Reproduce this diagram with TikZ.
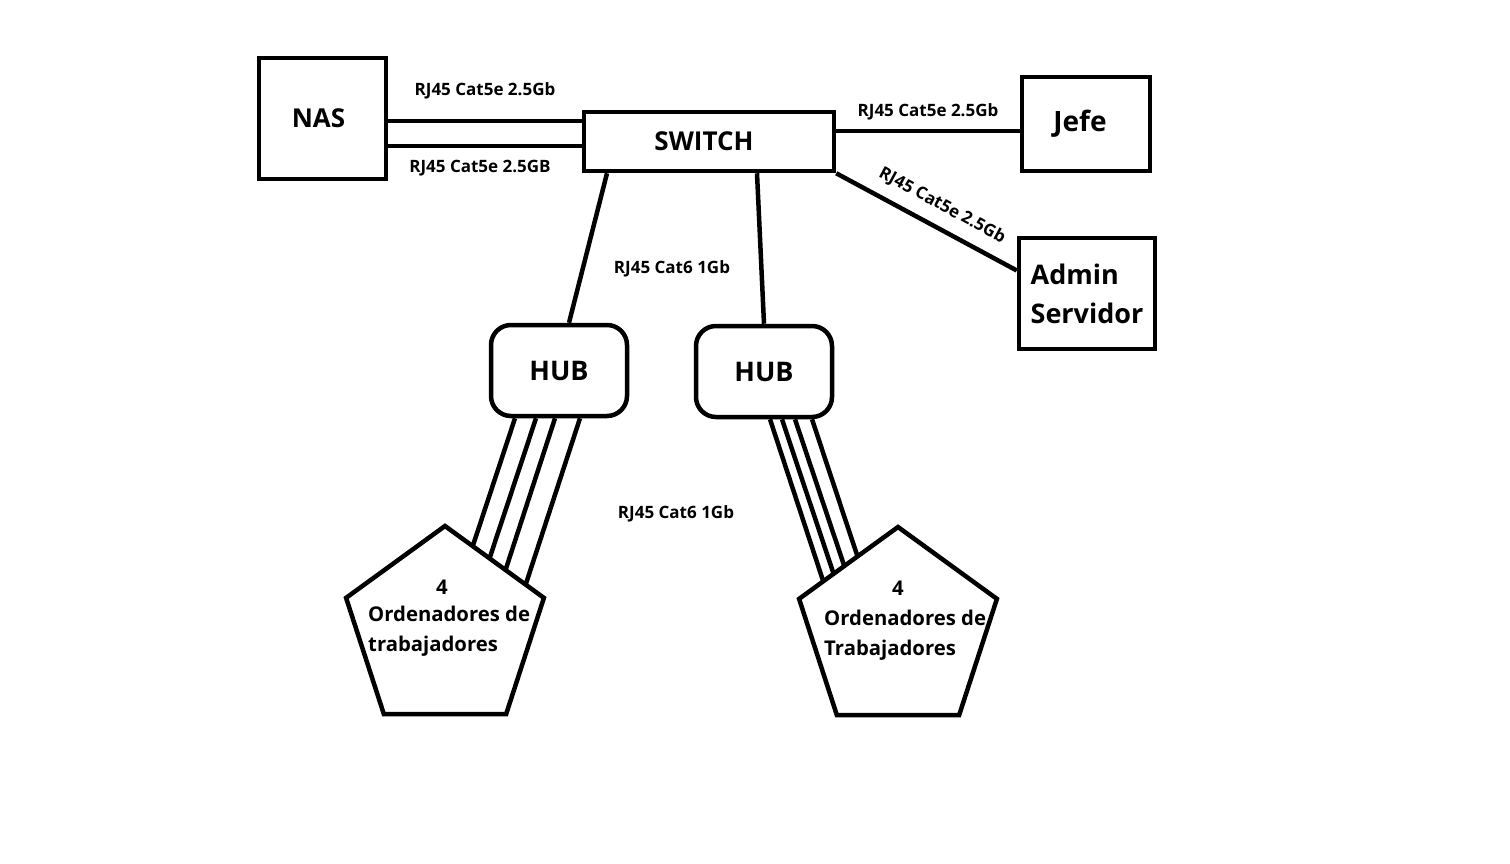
\documentclass[tikz,border=0pt]{standalone}
\usepackage{fontspec}
\setmainfont{Open Sans}
\usetikzlibrary{shapes.geometric,calc,backgrounds}

\tikzset{
  box/.style={draw, line width=4.5pt, inner sep=0pt, font=\bfseries\fontsize{26}{31}\selectfont},
  hubbox/.style={box, rounded corners=20pt, minimum width=136pt, minimum height=91pt, font=\bfseries\fontsize{27}{32}\selectfont},
  pcgroup/.style={draw, fill=white, line width=4.5pt, regular polygon, regular polygon sides=5, minimum size=208pt, inner sep=0pt},
  cable/.style={line width=4.5pt},
  cablelabel/.style={font=\bfseries\fontsize{17}{20}\selectfont, inner sep=0pt},
  pctext/.style={font=\bfseries\fontsize{20.3}{30}\selectfont, inner sep=0pt}
}

\begin{document}
\begin{tikzpicture}[x=1pt, y=-1pt]
    \useasboundingbox (0,0) rectangle (1510,863);

    % Devices
    \node[box, minimum width=127pt, minimum height=121pt, text depth=0pt] (nas) at (322.5,118.5) {\hspace*{-8pt}NAS};
    \node[box, minimum width=250pt, minimum height=59pt] (switch) at (709,141.5) {\hspace*{-10pt}SWITCH};
    \node[box, minimum width=128pt, minimum height=94pt, font=\bfseries\fontsize{28}{33}\selectfont] (jefe) at (1086,124) {\hspace*{-12pt}Jefe};
    \node[box, minimum width=136pt, minimum height=111pt, align=left,
          font=\bfseries\fontsize{27}{39}\selectfont] (admin) at (1087,293.5) {Admin\\Servidor};

    % Hubs
    \node[hubbox] (hubA) at (559,370.5) {HUB};
    \node[hubbox] (hubB) at (764,371.5) {HUB};

    % Workstation groups
    \node[pcgroup] (pcA) at (445,630) {};
    \node[pctext] (pcAnum) at (442,587) {4};
    \node[pctext, anchor=west, align=left] (pcAtxt) at (368,631) {Ordenadores de\\trabajadores};

    \node[pcgroup] (pcB) at (898,631) {};
    \node[pctext] (pcBnum) at (898,588) {4};
    \node[pctext, anchor=west, align=left] (pcBtxt) at (824,635) {Ordenadores de\\Trabajadores};

    % Cables NAS - SWITCH
    \draw[cable] ($(switch.west)+(0,-20.5)$) coordinate (nasup) -- (nasup -| nas.east)
        node[cablelabel, midway, above=20pt] {RJ45 Cat5e 2.5Gb};
    \draw[cable] ($(switch.west)+(0,4.5)$) coordinate (naslow) -- (naslow -| nas.east)
        node[cablelabel, midway, below=12pt, xshift=-5pt] {RJ45 Cat5e 2.5GB};

    % Cables SWITCH - Jefe / Admin
    \draw[cable] ($(switch.east)+(0,-10.5)$) coordinate (jefeln) -- (jefeln -| jefe.west)
        node[cablelabel, midway, above=9pt] {RJ45 Cat5e 2.5Gb};
    \draw[cable] (switch.south east) -- ($(admin.west)+(0,-23)$)
        node[cablelabel, pos=0.53, sloped, above=11pt] {RJ45 Cat5e 2.5Gb};

    % Cables SWITCH - HUBs
    \draw[cable] ($(switch.south)+(-102,0)$) -- ($(hubA.north)+(10,0)$);
    \draw[cable] ($(switch.south)+(48,0)$) -- (hubB.north);
    \node[cablelabel] (lblup) at (672,269) {RJ45 Cat6 1Gb};

    % Cables HUBs - workstations
    \begin{scope}[on background layer]
        \foreach \sx/\ex/\ey in {-44/21.5/-65, -23/39/-55, -4/54/-40, 21/74/-25}
            \draw[cable] ($(hubA.south)+(\sx,0)$) -- ($(pcA.center)+(\ex,\ey)$);
        \foreach \sx/\ex/\ey in {6/-66/-23, 18/-55/-29, 31/-45/-39, 48/-32/-49}
            \draw[cable] ($(hubB.south)+(\sx,0)$) -- ($(pcB.center)+(\ex,\ey)$);
    \end{scope}
    \node[cablelabel] (lbldown) at (676,514) {RJ45 Cat6 1Gb};

\end{tikzpicture}
\end{document}
